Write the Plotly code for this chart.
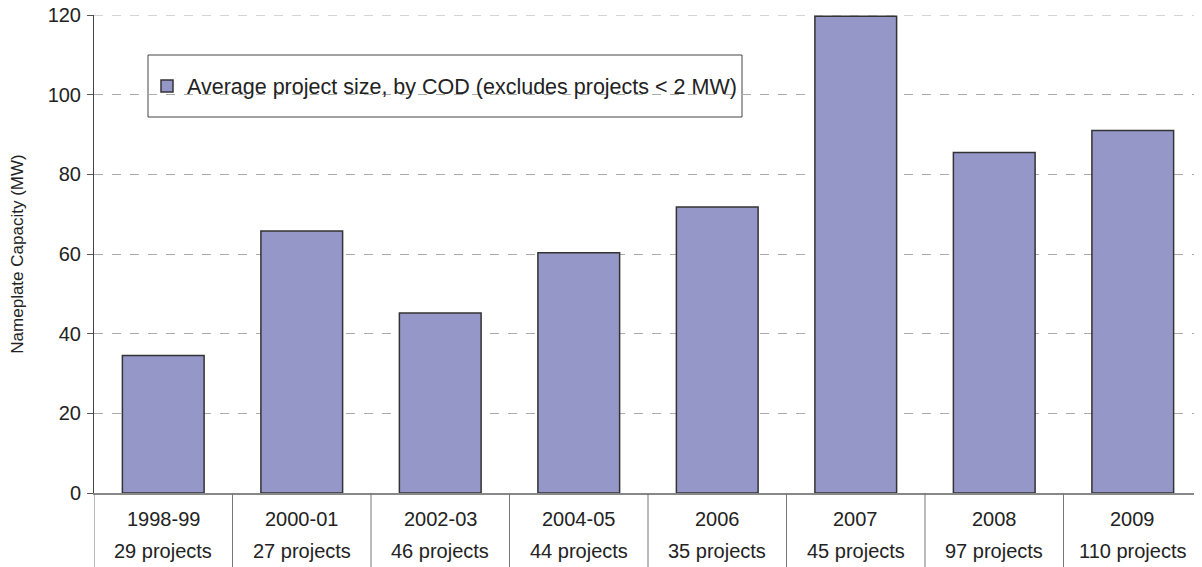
import plotly.graph_objects as go

categories = ["1998-99", "2000-01", "2002-03", "2004-05", "2006", "2007", "2008", "2009"]
project_counts = ["29 projects", "27 projects", "46 projects", "44 projects",
                  "35 projects", "45 projects", "97 projects", "110 projects"]
avg_size_mw = [34.5, 65.8, 45.2, 60.3, 71.8, 119.7, 85.5, 91.0]
series_name = "Average project size, by COD (excludes projects < 2 MW)"
y_ticks = [0, 20, 40, 60, 80, 100, 120]

FONT = "Liberation Sans, Arial, sans-serif"
OFF = 8  # page body margin offset
W, H = 1202 - OFF, 567 - OFF
ML, MR, MT, MB = 94 - OFF, 0, 15 - OFF, 567 - 493
plot_h = H - MT - MB
plot_w = W - ML - MR

x_idx = list(range(len(categories)))

fig = go.Figure()
fig.add_trace(go.Bar(
    x=x_idx, y=avg_size_mw, name=series_name,
    marker=dict(color="#9697C9", line=dict(color="#333333", width=1.5)),
    showlegend=True,
))

def py(page_y):
    # page pixel y -> paper coords
    return (H - MB + OFF - page_y) / plot_h

def px(page_x):
    return (page_x - OFF - ML) / plot_w

annotations = []
for i, (c, n) in enumerate(zip(categories, project_counts)):
    annotations.append(dict(x=i, y=py(519), xref="x", yref="paper", text=c,
                            showarrow=False, yanchor="middle", xanchor="center",
                            font=dict(family=FONT, size=20, color="#222222")))
    annotations.append(dict(x=i, y=py(551), xref="x", yref="paper", text=n,
                            showarrow=False, yanchor="middle", xanchor="center",
                            font=dict(family=FONT, size=20, color="#222222")))

shapes = []
for k in range(len(categories)):
    shapes.append(dict(type="line", xref="x", yref="paper", x0=k - 0.5, x1=k - 0.5,
                       y0=0, y1=py(575), line=dict(color="#777777", width=1)))
# top gridline (plotly omits the gridline lying on the plot edge)
shapes.append(dict(type="line", xref="paper", yref="y", x0=0, x1=1,
                   y0=y_ticks[-1], y1=y_ticks[-1], layer="below",
                   line=dict(color="#AAAAAA", width=1, dash="dash")))
# legend frame
shapes.append(dict(type="rect", xref="paper", yref="paper",
                   x0=px(148), x1=px(742), y0=py(117), y1=py(55),
                   line=dict(color="#444444", width=1), fillcolor="white", layer="below"))

fig.update_layout(
    width=W, height=H,
    margin=dict(l=ML, r=MR, t=MT, b=MB, autoexpand=False),
    paper_bgcolor="white", plot_bgcolor="white",
    font=dict(family=FONT, size=20, color="#222222"),
    bargap=0.41,
    showlegend=True,
    legend=dict(x=px(147), y=py(86), xanchor="left", yanchor="middle",
                bgcolor="rgba(0,0,0,0)", borderwidth=0,
                font=dict(family=FONT, size=21.5, color="#222222")),
    annotations=annotations,
    shapes=shapes,
    xaxis=dict(range=[-0.5, 7.5], showticklabels=False, ticks="", showgrid=False,
               zeroline=False, showline=True, linecolor="#888888", linewidth=2,
               fixedrange=True),
    yaxis=dict(range=[0, 120], tickvals=y_ticks, ticks="outside", ticklen=6,
               tickcolor="#555555", showline=True, linecolor="#444444", linewidth=1,
               showgrid=True, gridcolor="#AAAAAA", griddash="dash", gridwidth=1,
               zeroline=False, ticklabeloverflow="allow", ticklabelstandoff=2,
               tickfont=dict(family=FONT, size=20, color="#222222"),
               title=dict(text="Nameplate Capacity (MW)", standoff=19,
                          font=dict(family=FONT, size=17, color="#222222"))),
)

fig.write_html("out.html")
